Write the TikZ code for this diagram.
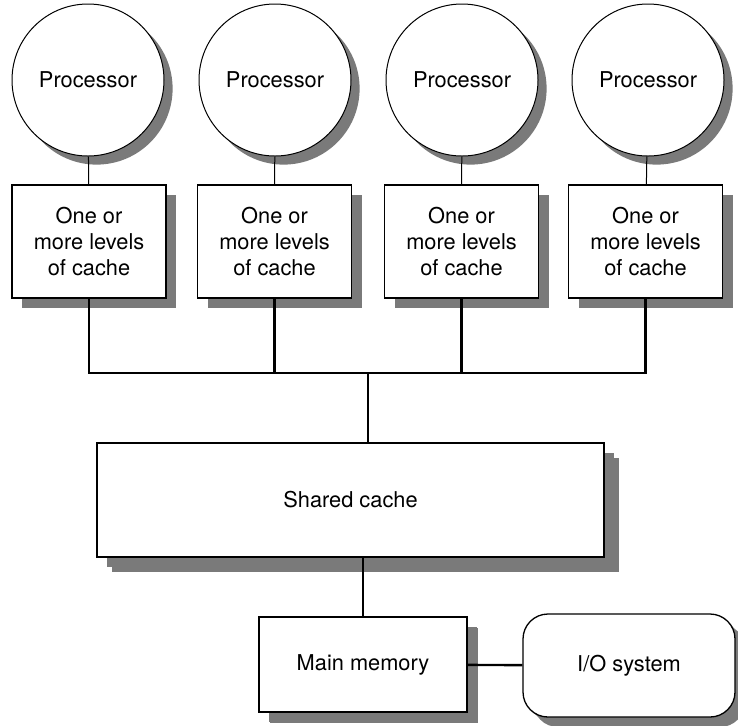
\documentclass[tikz,border=0pt]{standalone}
\usepackage{fontspec}
\setmainfont{TeX Gyre Heros}

\tikzset{
  shade/.style={preaction={draw=none, fill=black!52, transform canvas={xshift=#1, yshift=-#1}}},
  proc/.style={draw, circle, line width=0.5pt, fill=white, minimum size=76pt, inner sep=0pt, shade=4.3pt},
  cachebox/.style={draw, line width=0.65pt, fill=white, minimum width=77pt, minimum height=56.5pt,
    align=center, inner sep=0pt, shade=5pt},
  bus/.style={line width=1.2pt},
}

\begin{document}
\begin{tikzpicture}[x=0.5pt, y=-0.5pt, font=\fontsize{10.9}{13.2}\selectfont]
  \useasboundingbox (0,0) rectangle (738,725);

  % processors
  \node[proc] (P1) at (88,80) {Processor};
  \node[proc] (P2) at (275,80) {Processor};
  \node[proc] (P3) at (462,80) {Processor};
  \node[proc] (P4) at (648,80) {Processor};

  % private caches
  \node[cachebox] (C1) at (89,241.5) {One or\\more levels\\of cache};
  \node[cachebox] (C2) at (274.5,241.5) {One or\\more levels\\of cache};
  \node[cachebox] (C3) at (461.5,241.5) {One or\\more levels\\of cache};
  \node[cachebox] (C4) at (645.5,241.5) {One or\\more levels\\of cache};

  \foreach \i in {1,...,4}
    \draw[line width=0.5pt] (P\i) -- (C\i);

  % shared part
  \node[cachebox, minimum width=253.5pt, minimum height=57pt, shade=7.5pt] (S) at (350.5,500) {Shared cache};
  \node[cachebox, minimum width=104pt, minimum height=47.5pt, shade=5.5pt] (M) at (363,664.5) {Main memory};
  \node[cachebox, rounded corners=12.5pt, minimum width=106pt, minimum height=51.5pt, shade=1.6pt] (IO) at (629,665.5) {I/O system};

  \coordinate (J) at (368,373);
  \draw[bus] (C1.south) |- (J) -| (C4.south);
  \draw[bus] (C2.south) -- (C2.south |- J);
  \draw[bus] (C3.south) -- (C3.south |- J);
  \draw[bus] (J) -- (J |- S.north);

  \draw[bus] (S.south -| M.north) -- (M.north);
  \draw[bus] (M) -- (IO);
\end{tikzpicture}
\end{document}
